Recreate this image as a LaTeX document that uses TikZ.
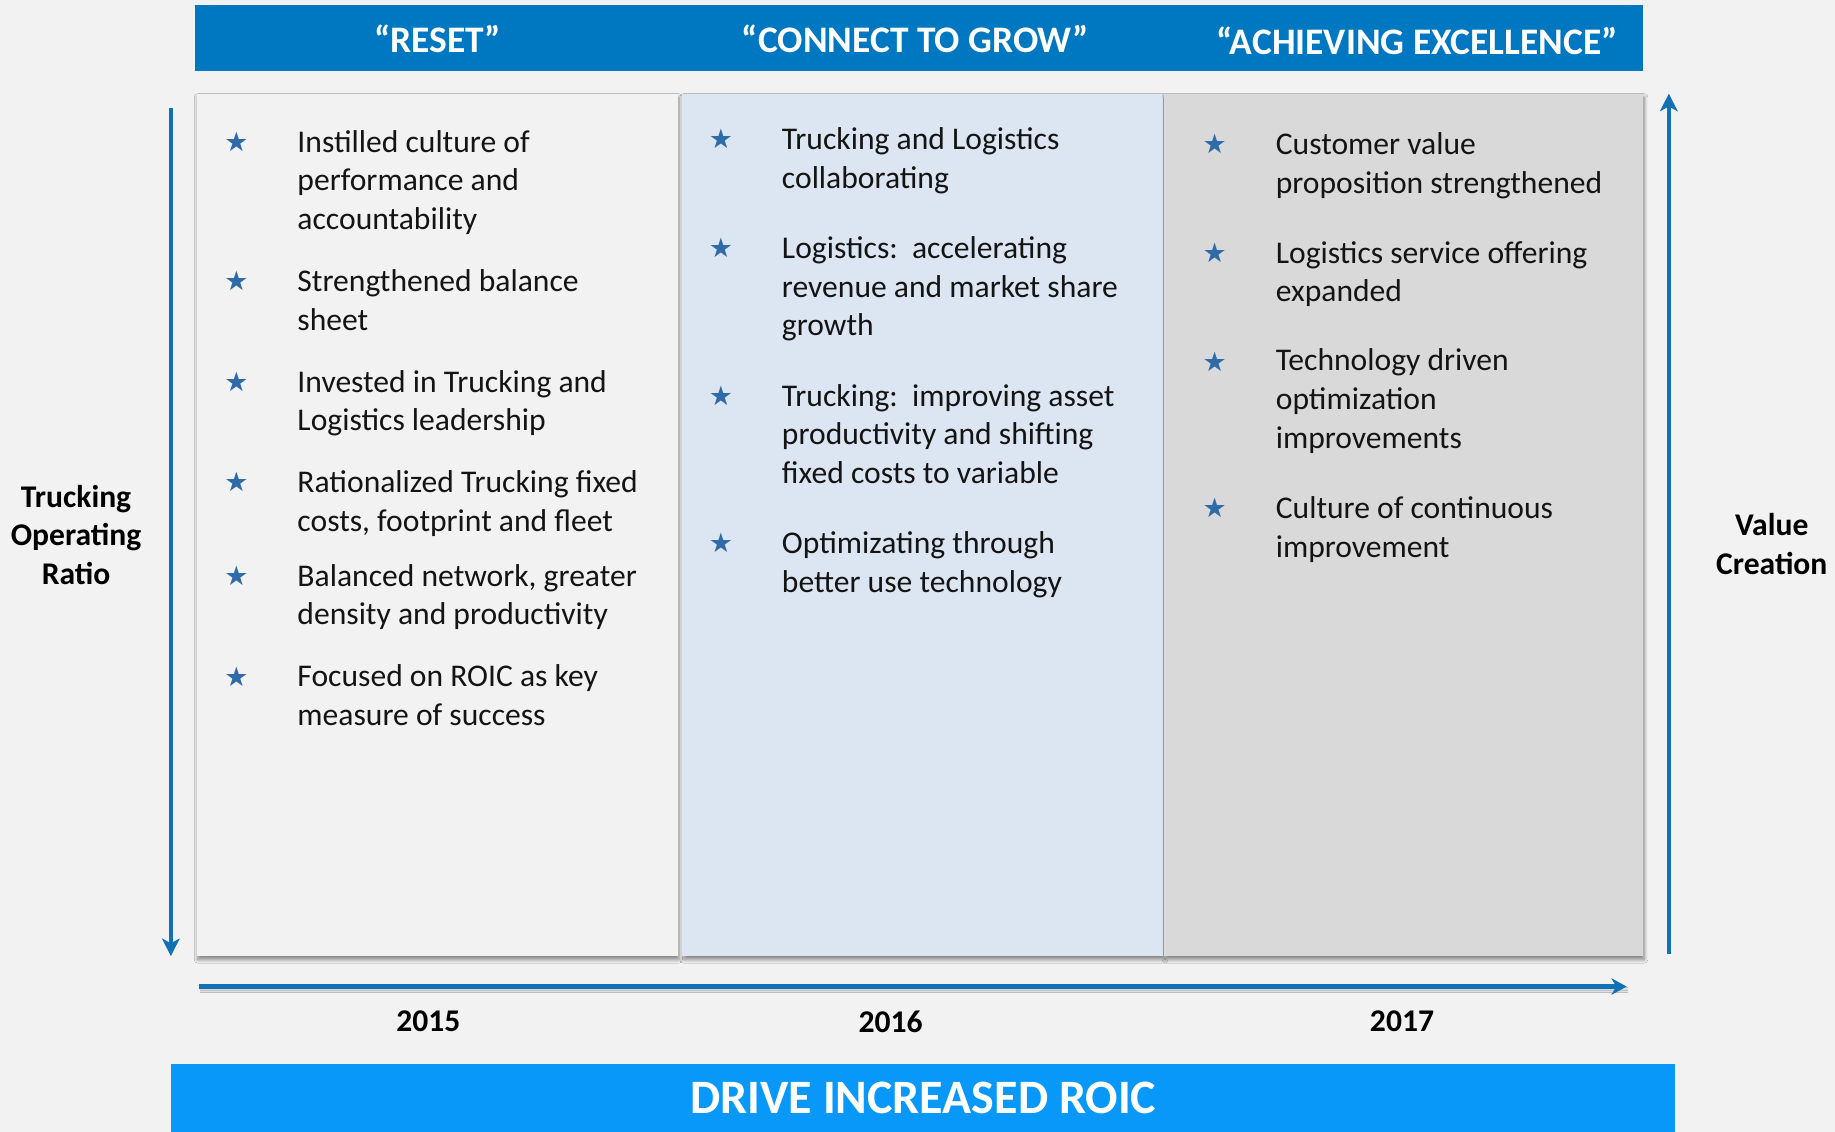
\documentclass[tikz,border=0pt]{standalone}
\usepackage{fontspec}
\setmainfont{Carlito}
\newfontfamily\starfont{DejaVu Sans}
\usetikzlibrary{arrows.meta,shadows.blur}

\definecolor{hdrblue}{RGB}{0,119,193}
\definecolor{roicblue}{RGB}{7,152,250}
\definecolor{arrowblue}{RGB}{16,114,181}
\definecolor{starblue}{RGB}{46,107,168}
\definecolor{paneblue}{RGB}{220,230,242}
\definecolor{panegrey}{RGB}{217,217,217}
\definecolor{pagegrey}{RGB}{242,242,242}

% item nodes sit on the baseline of their last line
\tikzset{
  item/.style={anchor=base west, align=left, inner sep=0pt, text=black!92, font=\fontsize{27}{33}\selectfont},
  staricon/.style={text=starblue, inner sep=0pt, font=\starfont\fontsize{23}{23}\selectfont},
  phase/.style={text=white, inner sep=0pt, font=\bfseries\fontsize{32}{38}\selectfont},
  year/.style={inner sep=0pt, font=\bfseries\fontsize{27}{32}\selectfont},
  axislabel/.style={align=center, inner sep=0pt, font=\bfseries\fontsize{27}{33}\selectfont},
  pane/.style={blur shadow={shadow xshift=1pt, shadow yshift=-3pt, shadow blur radius=3pt, shadow blur steps=8, shadow opacity=45}},
  axis/.style={arrowblue, line width=4pt, -{Stealth[length=15pt,width=15pt,inset=4pt]}},
}

\begin{document}
\begin{tikzpicture}[x=1pt,y=-1pt]
\fill [pagegrey] (0,0) rectangle (1568,967);
\useasboundingbox (0,0) rectangle (1568,967);

% phase banner
\fill [hdrblue] (167,4) rectangle (1404,61);
\node[phase] (reset) at (374,33) {“RESET”};
\node[phase] (grow) at (782,33) {“CONNECT TO GROW”};
\node[phase] (excel) at (1211,35) {“ACHIEVING EXCELLENCE”};

% three columns
\fill [pagegrey, pane] (168,80) rectangle (579,817);
\fill [paneblue, pane] (583,80) rectangle (994,817);
\fill [panegrey, pane] (995,80) rectangle (1404,817);

% 2015
\node[staricon] (s11) at (202,121) {★};
\node[item] (t11) at (254,196) {Instilled culture of\\performance and\\accountability};
\node[staricon] (s12) at (202,240) {★};
\node[item] (t12) at (254,282) {Strengthened balance\\sheet};
\node[staricon] (s13) at (202,326) {★};
\node[item] (t13) at (254,368) {Invested in Trucking and\\Logistics leadership};
\node[staricon] (s14) at (202,412) {★};
\node[item] (t14) at (254,454) {Rationalized Trucking fixed\\costs, footprint and fleet};
\node[staricon] (s15) at (202,492) {★};
\node[item] (t15) at (254,534) {Balanced network, greater\\density and productivity};
\node[staricon] (s16) at (202,578) {★};
\node[item] (t16) at (254,620) {Focused on ROIC as key\\measure of success};

% 2016
\node[staricon] (s21) at (616,119) {★};
\node[item] (t21) at (668,161) {Trucking and Logistics\\collaborating};
\node[staricon] (s22) at (616,212) {★};
\node[item] (t22) at (668,287) {Logistics:\ \ accelerating\\revenue and market share\\growth};
\node[staricon] (s23) at (616,338) {★};
\node[item] (t23) at (668,413) {Trucking:\ \ improving asset\\productivity and shifting\\fixed costs to variable};
\node[staricon] (s24) at (616,464) {★};
\node[item] (t24) at (668,506) {Optimizating through\\better use technology};

% 2017
\node[staricon] (s31) at (1038,123) {★};
\node[item] (t31) at (1090,165) {Customer value\\proposition strengthened};
\node[staricon] (s32) at (1038,216) {★};
\node[item] (t32) at (1090,258) {Logistics service offering\\expanded};
\node[staricon] (s33) at (1038,309) {★};
\node[item] (t33) at (1090,383) {Technology driven\\optimization\\improvements};
\node[staricon] (s34) at (1038,434) {★};
\node[item] (t34) at (1090,476) {Culture of continuous\\improvement};

% axes
\coordinate (ortop) at (146,92);
\coordinate (orbot) at (146,817);
\coordinate (vcbot) at (1426,815);
\coordinate (vctop) at (1426,80);
\coordinate (tstart) at (170,843);
\coordinate (tend) at (1390,843);
\draw [axis] (ortop) -- (orbot);
\draw [axis] (vcbot) -- (vctop);
\draw [axis, line width=5pt, -{Stealth[length=13pt,width=14pt,inset=4pt]},
       blur shadow={shadow xshift=1pt, shadow yshift=-3pt, shadow blur radius=2pt, shadow opacity=35}] (tstart) -- (tend);

\node[axislabel] (opratio) at (65,457) {Trucking\\Operating\\Ratio};
\node[axislabel] (value) at (1514,465) {Value\\Creation};

\node[year] (y15) at (366,873) {2015};
\node[year] (y16) at (761,873) {2016};
\node[year] (y17) at (1198,873) {2017};

% bottom banner
\fill [roicblue] (146,909) rectangle (1431,967);
\node[text=white, inner sep=0pt, font=\bfseries\fontsize{41}{48}\selectfont] (roic) at (789,938) {DRIVE INCREASED ROIC};
\end{tikzpicture}
\end{document}
